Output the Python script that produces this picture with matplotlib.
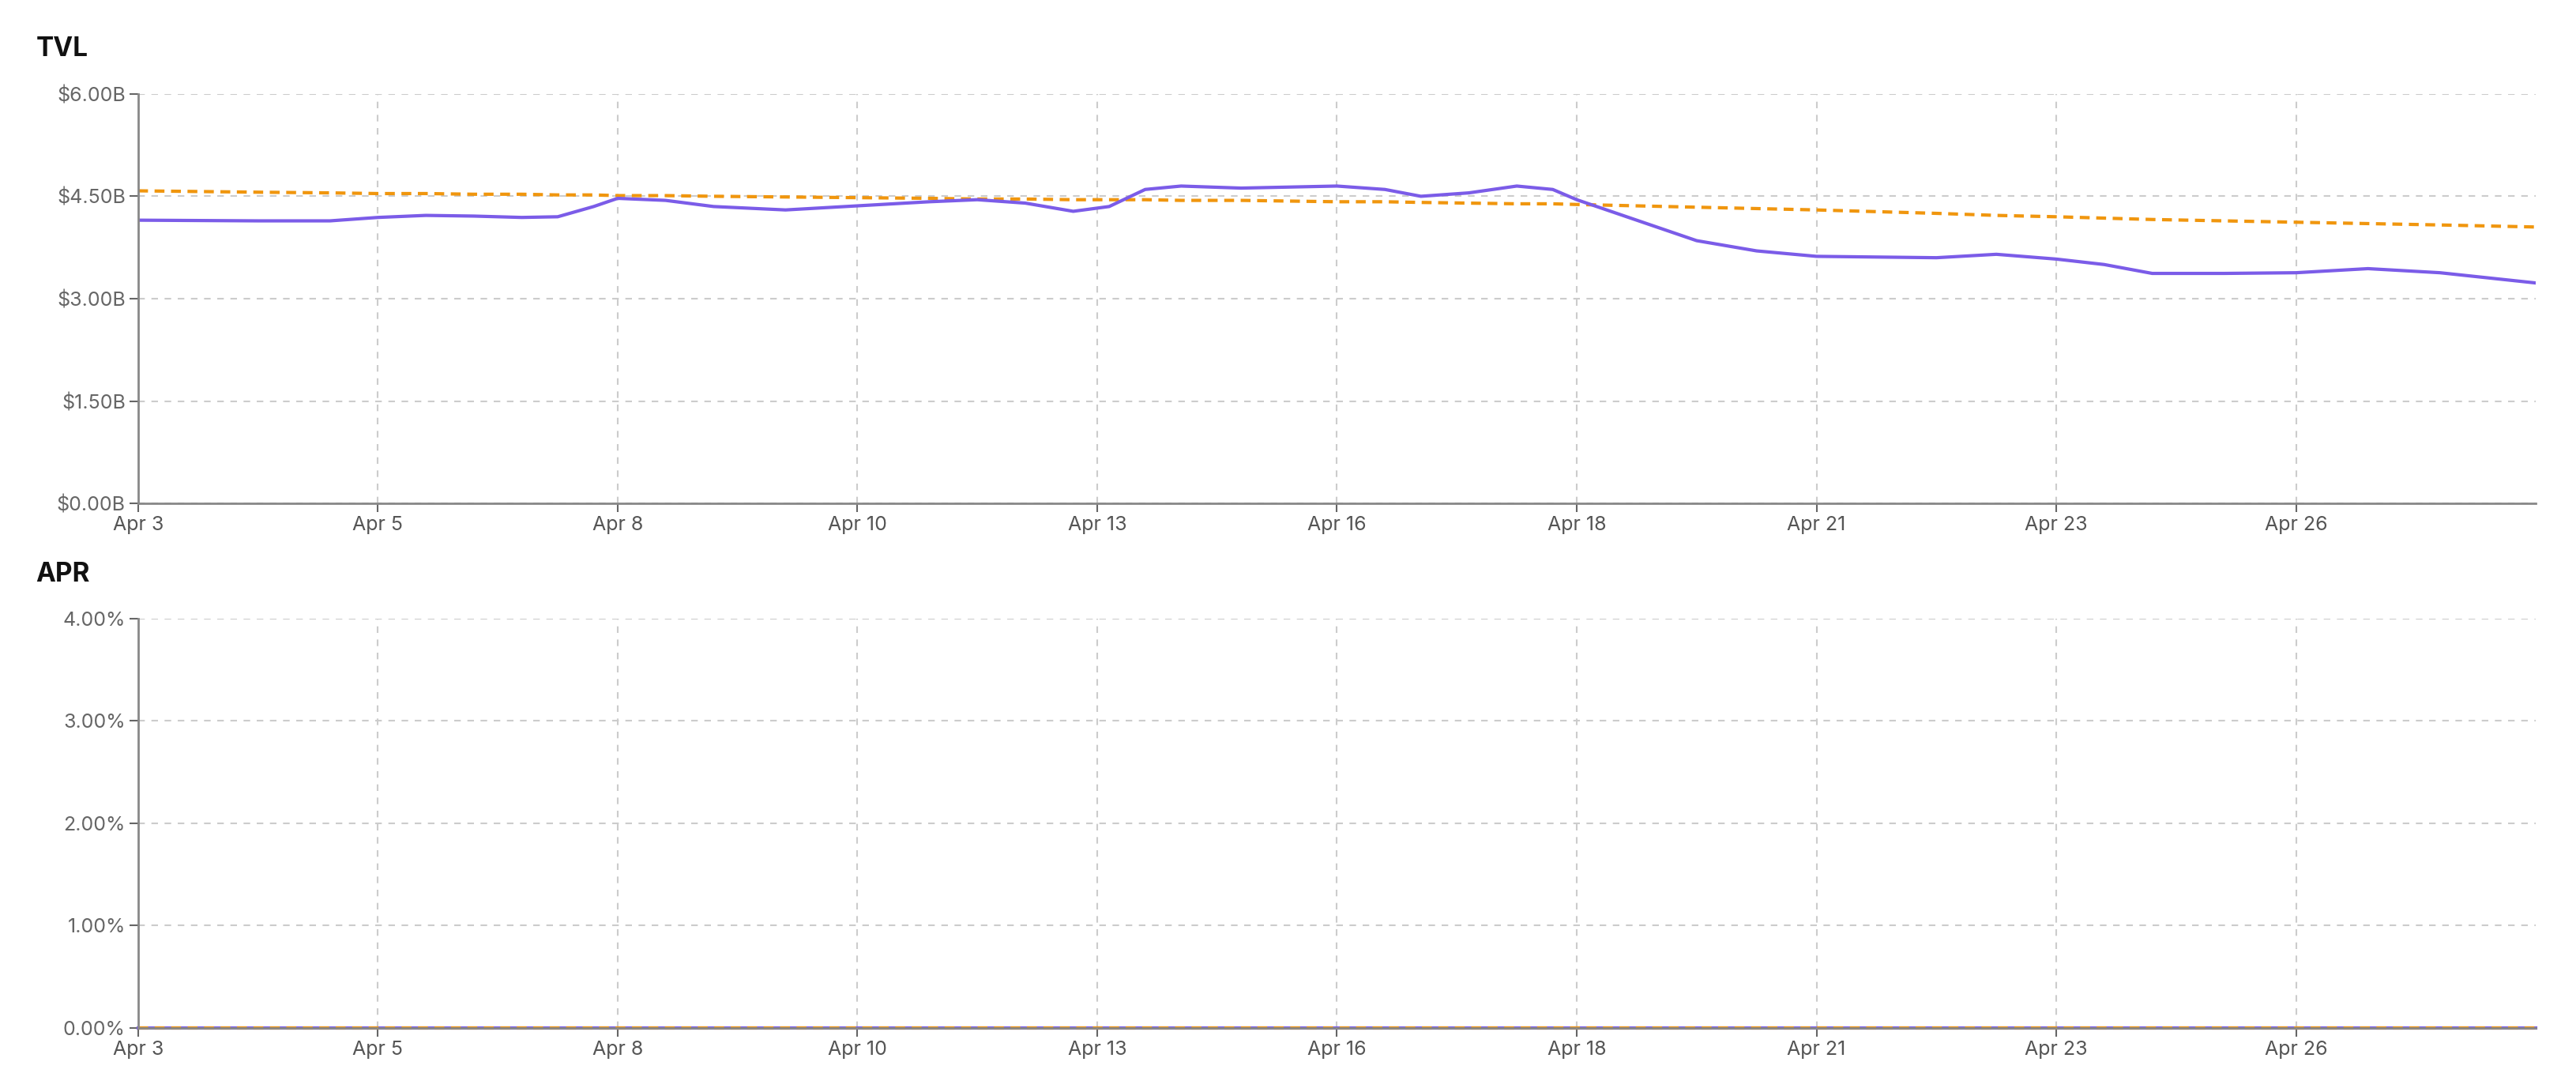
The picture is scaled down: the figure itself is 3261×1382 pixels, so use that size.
import matplotlib
matplotlib.use("Agg")
import matplotlib.pyplot as plt
from matplotlib.ticker import FuncFormatter

plt.rcParams['font.family'] = ['Inter', 'DejaVu Sans']

tick_labels = ["Apr 3", "Apr 5", "Apr 8", "Apr 10", "Apr 13", "Apr 16", "Apr 18", "Apr 21", "Apr 23", "Apr 26"]
# positions in units of tick spacing (0..10)
pos = [0, 0.5, 0.8, 1, 1.2, 1.4, 1.6, 1.75, 1.9, 2, 2.2, 2.4, 2.7, 3, 3.3, 3.5, 3.7, 3.9, 4.05, 4.2, 4.35, 4.6, 5, 5.2, 5.35, 5.55, 5.75, 5.9, 6, 6.25, 6.5, 6.75, 7, 7.5, 7.75, 8, 8.2, 8.4, 8.7, 9, 9.3, 9.6, 10]
tvl = [4.15, 4.14, 4.14, 4.19, 4.22, 4.21, 4.19, 4.2, 4.35, 4.47, 4.44, 4.35, 4.3, 4.36, 4.42, 4.45, 4.4, 4.28, 4.35, 4.6, 4.65, 4.62, 4.65, 4.6, 4.5, 4.55, 4.65, 4.6, 4.45, 4.15, 3.85, 3.7, 3.62, 3.6, 3.65, 3.58, 3.5, 3.37, 3.37, 3.38, 3.44, 3.38, 3.23]
tvl_avg = [4.58, 4.56, 4.55, 4.54, 4.54, 4.53, 4.53, 4.52, 4.52, 4.51, 4.51, 4.5, 4.49, 4.48, 4.47, 4.46, 4.46, 4.45, 4.45, 4.45, 4.44, 4.44, 4.42, 4.42, 4.41, 4.4, 4.39, 4.39, 4.38, 4.36, 4.34, 4.32, 4.3, 4.25, 4.22, 4.2, 4.18, 4.16, 4.14, 4.12, 4.1, 4.08, 4.05]
apr = [0.0] * len(pos)
apr_avg = [0.0] * len(pos)

PURPLE = "#7b5ce8"
ORANGE = "#f0960e"

fig = plt.figure(figsize=(32.62, 13.82), dpi=100)
ax1 = fig.add_axes([0.0536, 0.539, 0.9305, 0.375])
ax2 = fig.add_axes([0.0536, 0.0587, 0.9305, 0.375])

for ax in (ax1, ax2):
    ax.set_xlim(0, 10)
    ax.set_xticks(range(10))
    ax.set_xticklabels(tick_labels)
    ax.grid(True, linestyle=(0, (4, 4)), color="#cccccc", linewidth=1.5)
    for s in ("top", "right"):
        ax.spines[s].set_visible(False)
    for s in ("left", "bottom"):
        ax.spines[s].set_color("#888888")
        ax.spines[s].set_linewidth(2)
    ax.tick_params(labelsize=18, colors="#666666", length=8, width=1.5)
    ax.tick_params(axis="x", labelcolor="#555555")

ax1.plot(pos, tvl_avg, color=ORANGE, lw=3, linestyle=(0, (3, 2)))
ax1.plot(pos, tvl, color=PURPLE, lw=3, solid_joinstyle="round")
ax1.set_ylim(0, 6)
ax1.set_yticks([0, 1.5, 3, 4.5, 6])
ax1.yaxis.set_major_formatter(FuncFormatter(lambda v, p: f"${v:.2f}B"))

ax2.plot(pos, apr, color=PURPLE, lw=3, clip_on=False)
ax2.plot(pos, apr_avg, color=ORANGE, lw=3, linestyle=(0, (3, 2)), clip_on=False)
ax2.set_ylim(0, 4)
ax2.set_yticks([0, 1, 2, 3, 4])
ax2.yaxis.set_major_formatter(FuncFormatter(lambda v, p: f"{v:.2f}%"))

fig.text(0.014, 0.955, "TVL", fontsize=24, fontweight="bold", color="#111111", va="center")
fig.text(0.014, 0.474, "APR", fontsize=24, fontweight="bold", color="#111111", va="center")

fig.savefig("out.png", dpi=100, facecolor="white")
